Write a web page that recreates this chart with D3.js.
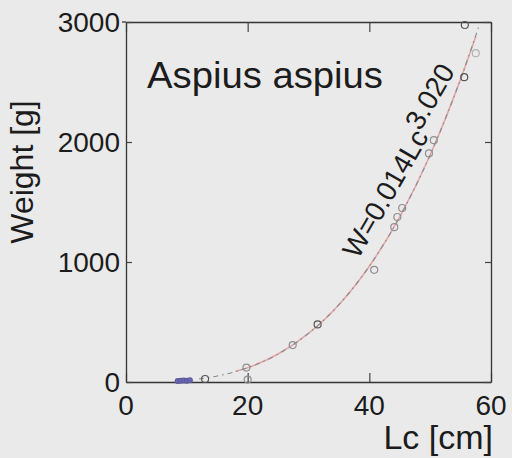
<!DOCTYPE html>
<html><head><meta charset="utf-8">
<script src="https://cdn.jsdelivr.net/npm/d3@7/dist/d3.min.js"></script>
<style>body{margin:0;background:#eaeaea;} svg{display:block;}</style>
</head><body>
<svg id="c" width="512" height="458"></svg>
<script>
// Observed fish: length Lc [cm] and weight [g]
const lc     = [8.5, 9, 9.5, 10, 10.5, 13, 19.8, 20, 27.4, 31.5, 40.8, 44.1, 44.6, 45.4, 49.8, 50.6, 55.6, 55.7, 57.5];
const weight = [8, 10, 12, 10, 14, 25, 120, 20, 308, 480, 935, 1290, 1375, 1450, 1905, 2015, 2540, 2975, 2740];
const group  = ["a","a","a","a","a","b","c","c","c","b","c","c","c","c","c","c","b","b","d"];
// Fitted curve W = 0.014 Lc^3.020
const fitLc = [12, 15, 20, 25, 30, 35, 40, 45, 50, 55, 58];
const fitW  = [25, 50, 119, 233, 405, 644, 965, 1377, 1892, 2524, 2963];
const redLc = [18, 20, 25, 30, 35, 40, 45, 50, 55, 57.5];
const redW  = [89, 119, 233, 405, 644, 965, 1377, 1892, 2524, 2880];
const xTicks = [0, 20, 40, 60];
const yTicks = [0, 1000, 2000, 3000];
const title = "Aspius aspius";
const xLabel = "Lc [cm]";
const yLabel = "Weight [g]";

const svg = d3.select("#c");
const L = 126, R = 491, T = 22, B = 382;
const x = d3.scaleLinear().domain([0, 60]).range([L, R]);
const y = d3.scaleLinear().domain([0, 3000]).range([B, T]);
const font = "'Liberation Sans', Arial, sans-serif";
const ink = "#1c1c1c";

svg.append("rect").attr("width",512).attr("height",458).attr("fill","#eaeaea");

// axes (ticks inward)
const ax = (g) => g.call(s => s.selectAll(".domain").attr("stroke","#333").attr("stroke-width",1.3))
                   .call(s => s.selectAll(".tick line").attr("stroke","#444").attr("stroke-width",1.2));
svg.append("g").attr("transform",`translate(0,${B})`)
  .call(d3.axisBottom(x).tickValues(xTicks).tickSizeInner(-9).tickSizeOuter(0).tickFormat(""))
  .call(ax);
svg.append("g").attr("transform",`translate(0,${T})`)
  .call(d3.axisTop(x).tickValues(xTicks).tickSizeInner(-10).tickSizeOuter(0).tickFormat(""))
  .call(ax);
svg.append("g").attr("transform",`translate(${L},0)`)
  .call(d3.axisLeft(y).tickValues(yTicks).tickSizeInner(-6).tickSizeOuter(0).tickFormat(""))
  .call(ax);
svg.append("g").attr("transform",`translate(${R},0)`)
  .call(d3.axisRight(y).tickValues(yTicks).tickSizeInner(-6).tickSizeOuter(0).tickFormat(""))
  .call(ax);
svg.append("line").attr("x1",L-4).attr("x2",L).attr("y1",y(3000)).attr("y2",y(3000)).attr("stroke","#333").attr("stroke-width",1.3);

// tick labels
svg.append("g").selectAll("text").data(xTicks).join("text")
  .attr("x", d => x(d)).attr("y", 415).attr("text-anchor","middle")
  .attr("font-family",font).attr("font-size",28).attr("fill",ink).text(d => d);
svg.append("g").selectAll("text").data(yTicks).join("text")
  .attr("x", 120).attr("y", d => y(d) + 10).attr("text-anchor","end")
  .attr("font-family",font).attr("font-size",28).attr("fill",ink).text(d => d);

// axis titles
svg.append("text").attr("x",493).attr("y",449).attr("text-anchor","end")
  .attr("font-family",font).attr("font-size",34).attr("fill",ink).text(xLabel);
svg.append("text").attr("transform","translate(33,172) rotate(-90)").attr("text-anchor","middle")
  .attr("font-family",font).attr("font-size",32).attr("fill",ink).text(yLabel);

// title
svg.append("text").attr("x",147).attr("y",88)
  .attr("font-family",font).attr("font-size",36).attr("fill",ink)
  .attr("textLength",236).attr("lengthAdjust","spacingAndGlyphs").text(title);

// fit lines
const line = d3.line().x(d => x(d[0])).y(d => y(d[1])).curve(d3.curveMonotoneX);
svg.append("path").datum(redLc.map((v,i)=>[v,redW[i]])).attr("d",line)
  .attr("fill","none").attr("stroke","#e4a5a8").attr("stroke-width",1.6);
svg.append("path").datum(fitLc.map((v,i)=>[v,fitW[i]])).attr("d",line)
  .attr("fill","none").attr("stroke","#8a8a8a").attr("stroke-width",1.1)
  .attr("stroke-dasharray","5,4,1.5,4");

// points
const col = {a:"#5b5aa0", b:"#555", c:"#909090", d:"#b3b3b3"};
svg.append("g").selectAll("circle").data(lc.map((v,i)=>({lc:v,w:weight[i],g:group[i]}))).join("circle")
  .attr("cx", d => x(d.lc)).attr("cy", d => y(d.w)).attr("r", d => d.g==="a" ? 2.4 : 3.5)
  .attr("fill", d => d.g==="a" ? "#6a69b0" : "none")
  .attr("stroke", d => col[d.g]).attr("stroke-width",1.2);

// equation label
const eq = svg.append("text").attr("transform","translate(358,260) rotate(-60)")
  .attr("font-family",font).attr("font-size",28).attr("fill",ink);
eq.append("tspan").text("W=0.014Lc");
eq.append("tspan").attr("dy",-10).text("3.020");
</script>
</body></html>
